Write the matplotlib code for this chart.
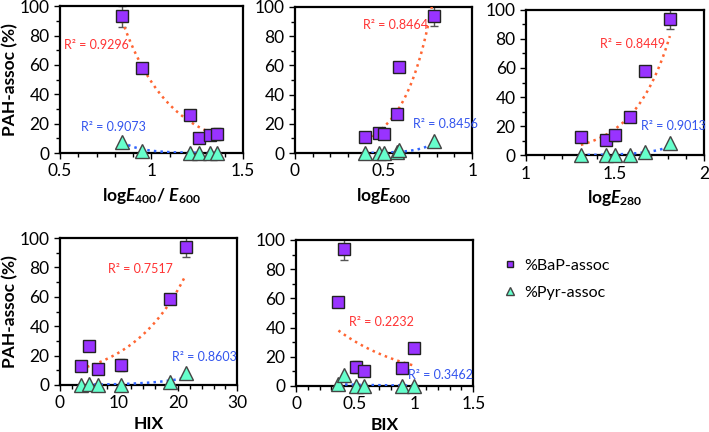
import numpy as np
import matplotlib.pyplot as plt
from matplotlib.ticker import MultipleLocator

plt.rcParams['font.family'] = ['Lato', 'DejaVu Sans']
plt.rcParams['mathtext.fontset'] = 'custom'
plt.rcParams['mathtext.rm'] = 'Lato:bold'
plt.rcParams['mathtext.it'] = 'Lato:bold:italic'
plt.rcParams['mathtext.bf'] = 'Lato:bold'

# --- data ---
# panel 1 : log E400/E600
x1 = [0.84, 0.95, 1.21, 1.26, 1.32, 1.36]
bap1 = [93, 58, 25.7, 10.5, 12.3, 13]
bap1_err = [7, 1, 1, 2, 2, 4]
pyr1 = [7.7, 1.4, 0.2, 0.1, 0.1, 0.1]
# panel 2 : log E600
x2 = [0.394, 0.477, 0.504, 0.573, 0.587, 0.787]
bap2 = [11, 14, 13, 26.5, 58.6, 94]
bap2_err = [2, 3, 1, 1, 1, 7]
pyr2 = [0.1, 0.1, 0.2, 0.5, 2, 8.5]
# panel 3 : log E280
x3 = [1.308, 1.45, 1.50, 1.584, 1.668, 1.808]
bap3 = [12.8, 10.5, 13.5, 26.5, 58, 94]
bap3_err = [1, 2, 4, 1, 1, 7]
pyr3 = [0.1, 0.1, 0.1, 0.1, 2, 8]
# panel 4 : HIX
x4 = [3.5, 4.9, 6.4, 10.3, 18.6, 21.3]
bap4 = [12.9, 26.6, 10.7, 13.6, 58.6, 94]
bap4_err = [1, 1, 2, 4, 1, 7]
pyr4 = [0.1, 0.5, 0.1, 0.1, 2, 8.5]
# panel 5 : BIX
x5 = [0.359, 0.41, 0.508, 0.579, 0.901, 0.997]
bap5 = [57.5, 93.6, 13.2, 10.3, 12.3, 26]
bap5_err = [1, 7, 4, 2, 1, 1]
pyr5 = [1.5, 7.5, 0.1, 0.1, 0.1, 0.1]

# trend curves (exponential), start/end values
bap_trend = [(90, 12), (9, 110), (7, 82), (11, 75), (38, 14)]
pyr_trend = [(7.5, 0.05), (0.1, 7), (0.1, 6), (0.2, 5), (1.2, 0.3)]
bap_r2 = ['0.9296', '0.8464', '0.8449', '0.7517', '0.2232']
pyr_r2 = ['0.9073', '0.8456', '0.9013', '0.8603', '0.3462']
bap_r2_pos = [(0.70, 73.5), (0.567, 88), (1.597, 76.7), (13.7, 79), (0.726, 43.6)]
pyr_r2_pos = [(0.79, 17.7), (0.85, 20), (1.83, 20), (24.4, 18.9), (1.22, 7.5)]

xlabels = [r'log$\mathit{E}_{400}$/ $\mathit{E}_{600}$', r'log$\mathit{E}_{600}$',
           r'log$\mathit{E}_{280}$', 'HIX', 'BIX']
xlims = [(0.5, 1.5), (0, 1), (1, 2), (0, 30), (0, 1.5)]
xmajor = [0.5, 0.5, 0.5, 10, 0.5]
xminor = [0.1, 0.1, 0.1, 2, 0.1]

rects = [
    [0.0846, 0.6458, 0.258, 0.340],
    [0.416, 0.6458, 0.250, 0.338],
    [0.742, 0.641, 0.251, 0.336],
    [0.0846, 0.1088, 0.250, 0.340],
    [0.4175, 0.1065, 0.250, 0.338],
]
labelpads = [5, 5, 5, 3, 3]

xs = [x1, x2, x3, x4, x5]
baps = [bap1, bap2, bap3, bap4, bap5]
bap_errs = [bap1_err, bap2_err, bap3_err, bap4_err, bap5_err]
pyrs = [pyr1, pyr2, pyr3, pyr4, pyr5]

fig = plt.figure(figsize=(7.09, 4.32), dpi=100)

for i in range(5):
    ax = fig.add_axes(rects[i])
    x = np.array(xs[i])
    ax.errorbar(x, baps[i], yerr=bap_errs[i], fmt='none', ecolor='#555555',
                elinewidth=1, capsize=3, zorder=2)
    xx = np.linspace(x.min(), x.max(), 100)
    ax.plot(xx, np.geomspace(*bap_trend[i], 100), ':', color='#FF6633', lw=1.8, zorder=3)
    ax.plot(xx, np.geomspace(*pyr_trend[i], 100), ':', color='#3366FF', lw=1.8, zorder=3)
    ax.plot(x, baps[i], 's', ms=8, mfc='#9933FF', mec='#222222', mew=1, zorder=4,
            label='%BaP-assoc')
    ax.plot(x, pyrs[i], '^', ms=10, mfc='#66FFCC', mec='#444444', mew=1, zorder=4,
            label='%Pyr-assoc', clip_on=False)
    ax.text(*bap_r2_pos[i], 'R² = ' + bap_r2[i], color='#FF3333', fontsize=9,
            ha='center', va='center')
    ax.text(*pyr_r2_pos[i], 'R² = ' + pyr_r2[i], color='#3355EE', fontsize=9,
            ha='center', va='center')

    ax.set_xlim(*xlims[i])
    ax.set_ylim(0, 100)
    ax.xaxis.set_major_locator(MultipleLocator(xmajor[i]))
    ax.xaxis.set_minor_locator(MultipleLocator(xminor[i]))
    ax.yaxis.set_major_locator(MultipleLocator(20))
    ax.yaxis.set_minor_locator(MultipleLocator(10))
    ax.xaxis.set_major_formatter(plt.FuncFormatter(lambda v, p: ('%g' % v)))
    ax.tick_params(which='both', direction='out', labelsize=12.5, width=1)
    ax.tick_params(which='major', length=4)
    ax.tick_params(which='minor', length=3)
    for s in ax.spines.values():
        s.set_linewidth(1.6)
    ax.set_xlabel(xlabels[i], fontsize=12.5, fontweight='bold', labelpad=labelpads[i])
    if i in (0, 3):
        ax.set_ylabel('PAH-assoc (%)', fontsize=12.5, fontweight='bold', labelpad=1)
    if i == 4:
        h, l = ax.get_legend_handles_labels()

fig.legend(h, l, loc='upper left', bbox_to_anchor=(0.69, 0.435), frameon=False,
           fontsize=11.5, markerscale=0.6, handlelength=0.8, handletextpad=0.5,
           labelspacing=0.8)

fig.savefig('out.png', dpi=100)
